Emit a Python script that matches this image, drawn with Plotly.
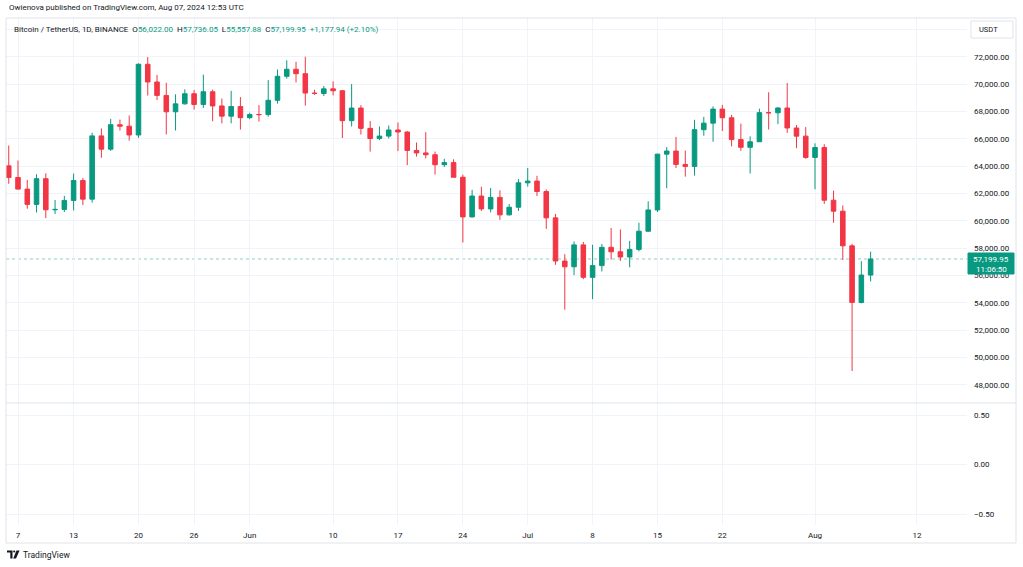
import pandas as pd
import plotly.graph_objects as go

# ── BTC/USDT daily candles, Binance, 6 May – 7 Aug 2024 ──
dates = pd.date_range("2024-05-06", "2024-08-07", freq="D")

opens = [
    64013, 63163, 62312, 61193, 63074, 60799, 60825, 61484, 62940, 61577,
    66206, 65235, 67024, 66915, 66274, 71446, 70148, 69166, 67969, 68549,
    69290, 68507, 69436, 68398, 67652, 68352,
    67540, 67766, 67765, 68809, 70568, 71082, 70757, 69342, 69305, 69648,
    69508, 67321, 68243, 66756, 66011, 66191, 66639, 66490, 65140, 64960,
    64828, 64096, 64252, 63180, 60277, 61806, 60864, 61706, 60427, 60986,
    62772, 62899, 62135, 60208, 57050, 56628, 58230, 55857, 56714, 58051,
    57725, 57344, 57899, 59231, 60787, 64870, 65097, 64118, 63975, 66660,
    67139, 68165, 67532, 65936, 65372, 65777, 67907, 67896, 68249, 66784,
    66188,
    64628, 65354, 61498, 60697, 58161, 54018, 56022.00,
]
highs = [
    65500, 64400, 62987, 63400, 63469, 61515, 61818, 63450, 63118, 66444,
    66752, 67451, 67400, 67700, 71515, 71979, 70666, 70096, 69250, 69610,
    69562, 70687, 69591, 68935, 69500, 69044,
    67899, 68460, 70288, 71063, 71735, 71625, 71997, 69582, 69850, 70195,
    69563, 69999, 68449, 67294, 66895, 66967, 67188, 66556, 65720, 66482,
    65066, 64526, 64491, 63370, 62258, 62487, 62389, 62225, 61224, 63058,
    63861, 63288, 62285, 60498, 57546, 58475, 58449, 58236, 58296, 59470,
    59359, 58526, 59850, 61420, 64900, 65388, 66128, 65133, 67386, 67598,
    68366, 68474, 67750, 67102, 66175, 68200, 69399, 68319, 70079, 66998,
    66849,
    65659, 65596, 62198, 61117, 58305, 57040, 57736.05,
]
lows = [
    62700, 62300, 60877, 60600, 60187, 60487, 60632, 60750, 61142, 61319,
    64602, 65106, 66600, 65857, 66060, 69162, 68833, 66312, 66600, 68500,
    68128, 68250, 67277, 67124, 67128, 66670,
    67428, 67257, 67612, 68567, 70390, 70119, 68420, 69208, 69125, 69172,
    66051, 66902, 66303, 65056, 65890, 66018, 65094, 64066, 64693, 64559,
    63379, 63929, 63180, 58402, 60239, 60712, 60606, 60063, 60383, 60712,
    62497, 61806, 59400, 56771, 53485, 56018, 55724, 54260, 56289, 57157,
    57052, 56590, 57756, 59193, 60632, 62373, 63854, 63224, 63300, 66222,
    65777, 66559, 65441, 65111, 63456, 65757, 66669, 67066, 66428, 65302,
    64530,
    62302, 61230, 59850, 57122, 49000, 53950, 55557.88,
]
closes = [
    63165, 62312, 61193, 63074, 60799, 60825, 61484, 62940, 61577, 66206,
    65235, 67024, 66915, 66274, 71446, 70148, 69166, 67969, 68549, 69290,
    68507, 69436, 68398, 67652, 68352, 67540,
    67766, 67765, 68809, 70568, 71082, 70757, 69342, 69305, 69648, 69508,
    67321, 68243, 66756, 66011, 66191, 66639, 66490, 65140, 64960, 64828,
    64096, 64252, 63180, 60277, 61806, 60864, 61706, 60427, 60986, 62772,
    62899, 62135, 60208, 57050, 56628, 58230, 55857, 56714, 58051, 57725,
    57344, 57899, 59231, 60787, 64870, 65097, 64118, 63975, 66660, 67139,
    68165, 67532, 65936, 65372, 65777, 67907, 67896, 68249, 66784, 66188,
    64628,
    65354, 61498, 60697, 58161, 54018, 56022.01, 57199.95,
]

tick_dates = [
    "2024-05-07", "2024-05-13", "2024-05-20", "2024-05-26", "2024-06-01",
    "2024-06-10", "2024-06-17", "2024-06-24", "2024-07-01", "2024-07-08",
    "2024-07-15", "2024-07-22", "2024-08-01", "2024-08-12",
]
tick_text = ["7", "13", "20", "26", "Jun", "10", "17", "24", "Jul", "8",
             "15", "22", "Aug", "12"]
price_ticks = list(range(48000, 74001, 2000))
# 74,000 sits under the currency box, so it gets a grid line but no label
price_text = [f"{v:,.2f}" if v < 74000 else "" for v in price_ticks]
pane_ticks = [-0.5, 0.0, 0.5]

countdown = "11:06:50"
author_line = "Owienova published on TradingView.com, Aug 07, 2024 12:53 UTC"
symbol_line = "Bitcoin / TetherUS, 1D, BINANCE"

UP = "#089981"
DOWN = "#F23645"
TEXT = "#131722"
GRID = "#f0f3fa"
BORDER = "#e0e3eb"
FONT = "Roboto, 'Noto Sans', sans-serif"

# ── pixel frame (1023x567 page) ──
W, H = 1023, 567
PL, PR, PT, PB = 6, 967, 18, 525   # plot area
SPLIT = 403                         # pane separator


def px(x):
    return (x - PL) / (PR - PL)


def py(y):
    return (PB - y) / (PB - PT)


fig = go.Figure()

fig.add_trace(go.Candlestick(
    x=dates, open=opens, high=highs, low=lows, close=closes,
    increasing=dict(line=dict(color=UP, width=1), fillcolor=UP),
    decreasing=dict(line=dict(color=DOWN, width=1), fillcolor=DOWN),
    xaxis="x2", yaxis="y",
    showlegend=False, hoverinfo="skip",
))
# empty lower pane (indicator area) – needs a trace so the subplot is drawn
fig.add_trace(go.Scatter(
    x=[dates[0]], y=[None], xaxis="x", yaxis="y2", mode="lines",
    showlegend=False, hoverinfo="skip",
))

x_range = ["2024-05-05 16:55", "2024-08-17 09:36"]
split_frac = py(SPLIT)

axis_common = dict(
    showline=False, zeroline=False, ticks="",
    gridcolor=GRID, gridwidth=1,
    tickfont=dict(family=FONT, size=8, color=TEXT),
)

fig.update_layout(
    width=W, height=H,
    margin=dict(l=PL, r=W - PR, t=PT, b=H - PB),
    plot_bgcolor="white", paper_bgcolor="white",
    font=dict(family=FONT, size=8, color=TEXT),
    showlegend=False,
    xaxis=dict(
        **axis_common, type="date", range=x_range, anchor="y2",
        tickmode="array", tickvals=tick_dates, ticktext=tick_text,
        ticklabelstandoff=4, rangeslider=dict(visible=False),
    ),
    xaxis2=dict(
        **axis_common, type="date", range=x_range, anchor="y",
        matches="x", tickmode="array", tickvals=tick_dates,
        showticklabels=False, rangeslider=dict(visible=False),
    ),
    yaxis=dict(
        **axis_common, domain=[split_frac, 1], side="right",
        range=[46661, 74832], tickmode="array", tickvals=price_ticks,
        ticktext=price_text, ticklabelstandoff=6, anchor="x2",
    ),
    yaxis2=dict(
        **axis_common, domain=[0, split_frac], side="right",
        range=[-0.608, 0.621], tickmode="array", tickvals=pane_ticks,
        tickformat=".2f", ticklabelstandoff=6, anchor="x",
    ),
)

shapes = []
# outer frame and pane separator
shapes.append(dict(type="rect", xref="paper", yref="paper",
                   x0=px(6), x1=px(1016), y0=py(543), y1=py(18),
                   line=dict(color=BORDER, width=1), layer="above"))
shapes.append(dict(type="line", xref="paper", yref="paper",
                   x0=px(6), x1=px(1016), y0=split_frac, y1=split_frac,
                   line=dict(color=BORDER, width=1), layer="above"))
# last price line
shapes.append(dict(type="line", xref="paper", yref="y",
                   x0=0, x1=1, y0=closes[-1], y1=closes[-1],
                   line=dict(color=UP, width=1, dash="dot"),
                   opacity=0.45, layer="below"))
# last price tag
shapes.append(dict(type="rect", xref="paper", yref="paper",
                   x0=px(968), x1=px(1014), y0=py(274), y1=py(253),
                   fillcolor=UP, line=dict(color=UP, width=1), layer="above"))
# currency box
shapes.append(dict(type="rect", xref="paper", yref="paper",
                   x0=px(971), x1=px(1013), y0=py(38), y1=py(21),
                   fillcolor="white", line=dict(color=BORDER, width=1),
                   layer="above"))


# TradingView logo mark
def logo_path(points):
    return "M " + " L ".join(f"{px(a)},{py(b)}" for a, b in points) + " Z"


shapes.append(dict(type="path", xref="paper", yref="paper",
                   path=logo_path([(7, 550.5), (12.5, 550.5), (12.5, 558.5),
                                   (10.3, 558.5), (10.3, 552.5), (7, 552.5)]),
                   fillcolor=TEXT, line=dict(width=0), layer="above"))
shapes.append(dict(type="circle", xref="paper", yref="paper",
                   x0=px(13.1), x1=px(15.3), y0=py(552.6), y1=py(550.4),
                   fillcolor=TEXT, line=dict(width=0), layer="above"))
shapes.append(dict(type="path", xref="paper", yref="paper",
                   path=logo_path([(16.5, 550.5), (19.5, 550.5), (16.0, 558.5),
                                   (13.2, 558.5)]),
                   fillcolor=TEXT, line=dict(width=0), layer="above"))
fig.update_layout(shapes=shapes)

nb = "\u00a0"
prev_close = closes[-2]
chg = closes[-1] - prev_close
pct = chg / prev_close * 100
val = lambda v: f"<span style='color:{UP}'>{v:,.2f}</span>"
legend_text = (
    f"{symbol_line}{nb}{nb}O{val(opens[-1])}{nb}{nb}H{val(highs[-1])}"
    f"{nb}{nb}L{val(lows[-1])}{nb}{nb}C{val(closes[-1])}{nb}{nb}"
    f"<span style='color:{UP}'>{chg:+,.2f} ({pct:+.2f}%)</span>"
)

annotations = [
    dict(text=author_line, x=px(7), y=py(8), xanchor="left", yanchor="middle",
         font=dict(size=8, color=TEXT)),
    dict(text=legend_text, x=px(12), y=py(29), xanchor="left",
         yanchor="middle", font=dict(size=8, color=TEXT)),
    dict(text="USDT", x=px(977), y=py(29.5), xanchor="left", yanchor="middle",
         font=dict(size=7.5, color=TEXT)),
    dict(text=f"{closes[-1]:,.2f}", x=px(991), y=py(259), xanchor="center",
         yanchor="middle", font=dict(size=8, color="white")),
    dict(text=countdown, x=px(991), y=py(269), xanchor="center",
         yanchor="middle", font=dict(size=8, color="white")),
    dict(text="TradingView", x=px(21), y=py(554.5), xanchor="left",
         yanchor="middle", font=dict(size=8.5, color=TEXT)),
]
for a in annotations:
    a.update(xref="paper", yref="paper", showarrow=False)
fig.update_layout(annotations=annotations)

fig.write_html("out.html", config={"displayModeBar": False},
               post_script="document.body.style.margin='0';")
